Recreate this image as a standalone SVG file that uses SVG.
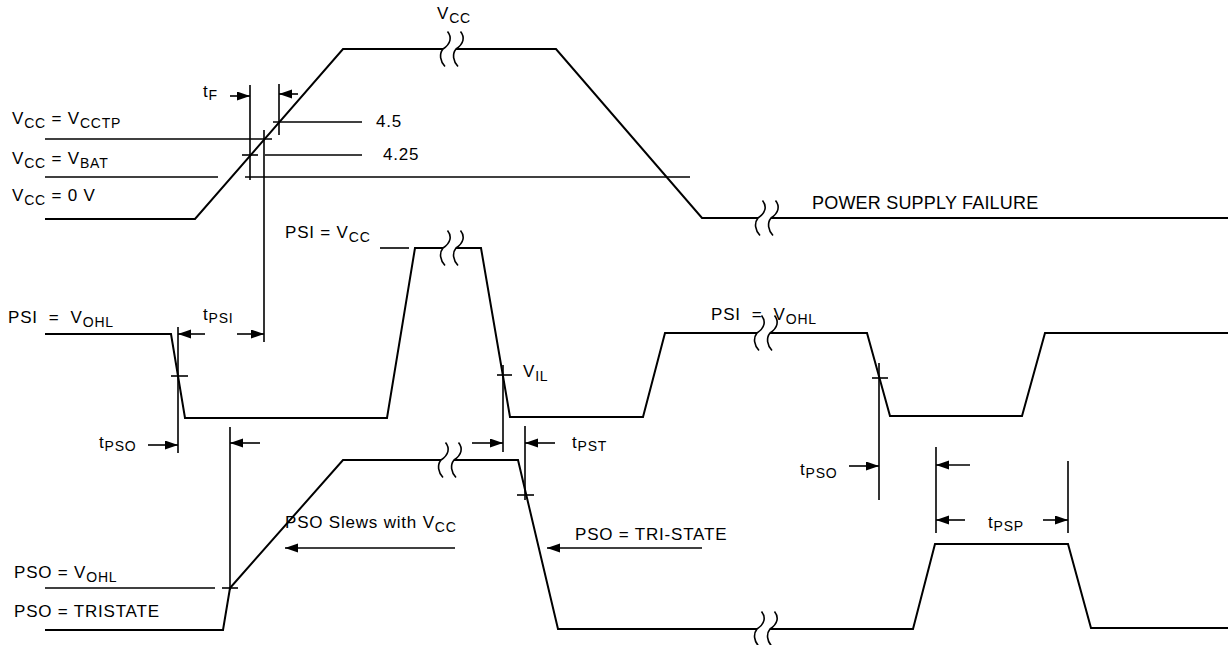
<svg xmlns="http://www.w3.org/2000/svg" xmlns:xlink="http://www.w3.org/1999/xlink" width="1228" height="645" viewBox="0 0 1228 645">
<style>
.w{fill:none;stroke:#000;stroke-width:2;stroke-linejoin:miter}
.t{fill:none;stroke:#000;stroke-width:1.6}
.a{fill:none;stroke:#000;stroke-width:1.6;marker-end:url(#ah)}
text{font-family:"Liberation Sans",Arial,sans-serif;font-size:17px;letter-spacing:0.8px;fill:#000;white-space:pre}
.s{font-size:14px}
.big{font-size:18px;letter-spacing:0.2px}
</style>
<defs>
<marker id="ah" markerUnits="userSpaceOnUse" markerWidth="14" markerHeight="10" refX="13" refY="4.5" orient="auto">
<path d="M0,0 L13,4.5 L0,9 z" fill="#000"/>
</marker>
<g id="brk" fill="none" stroke="#000" stroke-width="1.6">
<path d="M4.5,-17.5 C9,-12 8,-5 0,0 C-4,5 -3,12 2,17.5"/>
<path d="M17.5,-17.5 C22,-12 21,-5 13,0 C9,5 10,12 15,17.5"/>
</g>
</defs>

<g id="vcc-waveform">
<polyline class="w" points="45,219 195,219 343,49 443,49"/>
<polyline class="w" points="456,49 556,49 702,218 758,218"/>
<line class="w" x1="771" y1="218" x2="1228" y2="218"/>
<use xlink:href="#brk" x="443" y="49"/>
<use xlink:href="#brk" x="758" y="218"/>
</g>

<g id="vcc-levels">
<line class="t" x1="45" y1="139" x2="272" y2="139"/>
<line class="t" x1="45" y1="177" x2="218" y2="177"/>
<line class="t" x1="245" y1="177" x2="690" y2="177"/>
<line class="t" x1="273" y1="122" x2="362" y2="122"/>
<line class="t" x1="265" y1="155" x2="362" y2="155"/>
<line class="t" x1="242" y1="155" x2="258" y2="155"/>
</g>

<g id="psi-waveform">
<polyline class="w" points="45,334 171,334 185,418 387,418 415,248 443,248"/>
<polyline class="w" points="456,248 481,248 510,417 643,417 665,333 757,333"/>
<polyline class="w" points="770,333 867,333 890,416 1022,416 1045,333 1228,333"/>
<use xlink:href="#brk" x="443" y="248"/>
<use xlink:href="#brk" x="757" y="333"/>
<line class="t" x1="380" y1="248" x2="409" y2="248"/>
<line class="t" x1="171" y1="376" x2="188" y2="376"/>
<line class="t" x1="497" y1="375" x2="512" y2="375"/>
<line class="t" x1="872" y1="378" x2="888" y2="378"/>
</g>

<g id="pso-waveform">
<polyline class="w" points="45,630 223,630 230,588 343,460 441,460"/>
<polyline class="w" points="454,460 518,460 558,629 757,629"/>
<polyline class="w" points="770,629 913,629 935,544 1068,544 1091,628 1228,628"/>
<use xlink:href="#brk" x="441" y="460"/>
<use xlink:href="#brk" x="757" y="629"/>
<line class="t" x1="45" y1="588" x2="215" y2="588"/>
<line class="t" x1="222" y1="588" x2="238" y2="588"/>
<line class="t" x1="517" y1="495" x2="534" y2="495"/>
</g>

<g id="connectors">
<line class="t" x1="250" y1="85" x2="250" y2="180"/>
<line class="t" x1="279" y1="84" x2="279" y2="135"/>
<line class="t" x1="264" y1="130" x2="264" y2="342"/>
<line class="t" x1="178" y1="327" x2="178" y2="453"/>
<line class="t" x1="230" y1="427" x2="230" y2="590"/>
<line class="t" x1="503" y1="365" x2="503" y2="452"/>
<line class="t" x1="525" y1="426" x2="525" y2="500"/>
<line class="t" x1="879" y1="363" x2="879" y2="500"/>
<line class="t" x1="936" y1="447" x2="936" y2="533"/>
<line class="t" x1="1068" y1="461" x2="1068" y2="533"/>
<line class="a" x1="230" y1="96" x2="250" y2="96"/>
<line class="a" x1="298" y1="94" x2="279" y2="94"/>
<line class="a" x1="205" y1="334" x2="178" y2="334"/>
<line class="a" x1="237" y1="334" x2="264" y2="334"/>
<line class="a" x1="148" y1="445" x2="178" y2="445"/>
<line class="a" x1="260" y1="443" x2="230" y2="443"/>
<line class="a" x1="472" y1="443" x2="503" y2="443"/>
<line class="a" x1="555" y1="443" x2="525" y2="443"/>
<line class="a" x1="849" y1="466" x2="879" y2="466"/>
<line class="a" x1="970" y1="465" x2="936" y2="465"/>
<line class="a" x1="965" y1="520" x2="936" y2="520"/>
<line class="a" x1="1043" y1="520" x2="1068" y2="520"/>
<line class="a" x1="455" y1="548" x2="285" y2="548"/>
<line class="a" x1="702" y1="548" x2="547" y2="548"/>
</g>

<g id="labels">
<text x="437" y="19">V<tspan class="s" dy="4">CC</tspan></text>
<text x="203" y="97">t<tspan class="s" dy="3">F</tspan></text>
<text x="12" y="124">V<tspan class="s" dy="4">CC</tspan><tspan dy="-4"> = V</tspan><tspan class="s" dy="4">CCTP</tspan></text>
<text x="376" y="127">4.5</text>
<text x="12" y="164">V<tspan class="s" dy="4">CC</tspan><tspan dy="-4"> = V</tspan><tspan class="s" dy="4">BAT</tspan></text>
<text x="383" y="160">4.25</text>
<text x="12" y="201">V<tspan class="s" dy="4">CC</tspan><tspan dy="-4"> = 0 V</tspan></text>
<text class="big" x="812" y="209">POWER SUPPLY FAILURE</text>
<text x="285" y="238">PSI = V<tspan class="s" dy="4">CC</tspan></text>
<text x="8" y="323">PSI&#160; =&#160; V<tspan class="s" dy="4">OHL</tspan></text>
<text x="203" y="320">t<tspan class="s" dy="3">PSI</tspan></text>
<text x="523" y="377">V<tspan class="s" dy="4">IL</tspan></text>
<text x="711" y="320">PSI&#160; =&#160; V<tspan class="s" dy="4">OHL</tspan></text>
<text x="99" y="448">t<tspan class="s" dy="3">PSO</tspan></text>
<text x="572" y="448">t<tspan class="s" dy="3">PST</tspan></text>
<text x="800" y="475">t<tspan class="s" dy="3">PSO</tspan></text>
<text x="988" y="528">t<tspan class="s" dy="3">PSP</tspan></text>
<text x="285" y="528">PSO Slews with V<tspan class="s" dy="4">CC</tspan></text>
<text x="575" y="540">PSO = TRI-STATE</text>
<text x="14" y="578">PSO = V<tspan class="s" dy="4">OHL</tspan></text>
<text x="14" y="617">PSO = TRISTATE</text>
</g>
</svg>
